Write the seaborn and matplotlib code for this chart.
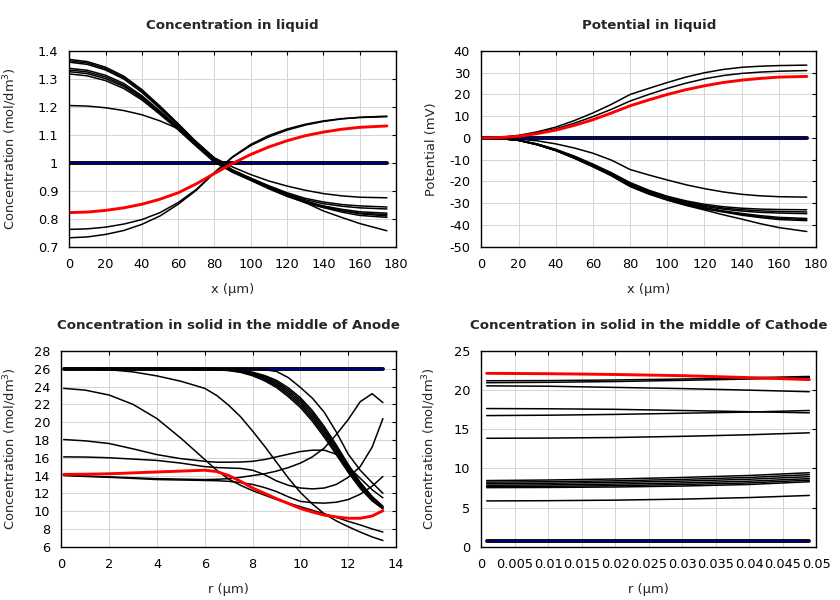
import matplotlib
matplotlib.use('Agg')
import matplotlib.pyplot as plt
from matplotlib.ticker import MultipleLocator, FormatStrFormatter
import seaborn as sns

sns.set_theme(style='white')
plt.rcParams['font.family'] = ['DejaVu Sans']
plt.rcParams['mathtext.fontset'] = 'dejavusans'

# ---- Concentration in liquid (x in um) ----
x_liq = [0, 10, 20, 30, 40, 50, 60, 70, 80, 90, 100, 110, 120, 130, 140, 150, 160, 175]

conc_liq_black = [
    [1.370, 1.362, 1.342, 1.310, 1.262, 1.203, 1.140, 1.075, 1.015, 0.975, 0.945, 0.915, 0.888, 0.858, 0.828, 0.805, 0.783, 0.757],
    [1.365, 1.357, 1.337, 1.305, 1.257, 1.198, 1.136, 1.072, 1.012, 0.972, 0.942, 0.912, 0.886, 0.863, 0.845, 0.830, 0.818, 0.810],
    [1.360, 1.352, 1.332, 1.300, 1.252, 1.194, 1.133, 1.070, 1.010, 0.970, 0.940, 0.909, 0.882, 0.858, 0.840, 0.824, 0.812, 0.805],
    [1.338, 1.331, 1.313, 1.284, 1.240, 1.185, 1.127, 1.065, 1.008, 0.972, 0.945, 0.918, 0.893, 0.873, 0.860, 0.851, 0.846, 0.842],
    [1.332, 1.325, 1.307, 1.278, 1.235, 1.181, 1.124, 1.063, 1.006, 0.970, 0.942, 0.914, 0.889, 0.868, 0.854, 0.845, 0.839, 0.835],
    [1.326, 1.319, 1.301, 1.273, 1.230, 1.177, 1.121, 1.061, 1.004, 0.968, 0.939, 0.910, 0.884, 0.862, 0.846, 0.834, 0.825, 0.820],
    [1.318, 1.311, 1.294, 1.266, 1.225, 1.173, 1.118, 1.059, 1.002, 0.966, 0.937, 0.907, 0.880, 0.858, 0.841, 0.829, 0.820, 0.815],
    [1.205, 1.203, 1.197, 1.187, 1.172, 1.150, 1.122, 1.075, 1.018, 0.985, 0.958, 0.935, 0.917, 0.902, 0.890, 0.882, 0.877, 0.875],
    [0.762, 0.764, 0.770, 0.781, 0.797, 0.822, 0.858, 0.905, 0.965, 1.020, 1.062, 1.093, 1.117, 1.135, 1.148, 1.157, 1.163, 1.167],
    [0.732, 0.735, 0.744, 0.758, 0.780, 0.810, 0.852, 0.902, 0.965, 1.022, 1.066, 1.098, 1.121, 1.138, 1.150, 1.158, 1.162, 1.165],
]
conc_liq_red = [0.822, 0.824, 0.830, 0.839, 0.852, 0.870, 0.893, 0.925, 0.962, 0.998, 1.030, 1.057, 1.079, 1.097, 1.110, 1.120, 1.127, 1.132]
conc_liq_flat = [1.0] * len(x_liq)

# ---- Potential in liquid (mV) ----
pot_liq_black = [
    [0, 0.3, 1.2, 2.8, 5.0, 8.0, 11.5, 15.5, 20.0, 22.8, 25.5, 28.0, 30.0, 31.5, 32.5, 33.0, 33.3, 33.5],
    [0, 0.25, 1.0, 2.3, 4.2, 6.8, 9.8, 13.2, 17.0, 20.0, 22.8, 25.2, 27.2, 28.7, 29.7, 30.3, 30.7, 31.0],
    [0, -0.1, -0.5, -1.3, -2.7, -4.6, -7.0, -10.2, -14.5, -17.0, -19.3, -21.5, -23.3, -24.8, -25.9, -26.6, -27.0, -27.2],
    [0, -0.2, -1.0, -2.7, -5.2, -8.3, -12.0, -16.0, -20.5, -24.0, -26.8, -28.9, -30.5, -31.6, -32.3, -32.7, -32.9, -33.0],
    [0, -0.2, -1.0, -2.8, -5.4, -8.6, -12.3, -16.3, -20.9, -24.3, -27.1, -29.3, -31.0, -32.2, -33.0, -33.5, -33.8, -34.0],
    [0, -0.2, -1.0, -2.9, -5.5, -8.8, -12.5, -16.6, -21.2, -24.6, -27.4, -29.7, -31.5, -32.7, -33.6, -34.2, -34.5, -34.8],
    [0, -0.25, -1.1, -3.0, -5.6, -9.0, -12.8, -16.9, -21.6, -25.0, -27.8, -30.1, -32.0, -33.5, -34.7, -35.7, -36.5, -37.0],
    [0, -0.25, -1.1, -3.0, -5.7, -9.2, -13.0, -17.1, -21.9, -25.3, -28.1, -30.4, -32.3, -33.8, -35.1, -36.2, -37.0, -37.5],
    [0, -0.25, -1.1, -3.1, -5.8, -9.3, -13.2, -17.3, -22.2, -25.6, -28.4, -30.7, -32.6, -34.0, -35.5, -36.6, -37.5, -38.0],
    [0, -0.25, -1.1, -3.1, -5.8, -9.3, -13.2, -17.4, -22.3, -25.8, -28.6, -31.0, -33.1, -35.3, -37.3, -39.4, -41.2, -43.0],
]
pot_liq_red = [0, 0.2, 0.8, 2.0, 3.6, 5.8, 8.4, 11.5, 14.8, 17.5, 20.0, 22.2, 24.0, 25.5, 26.6, 27.4, 28.0, 28.3]
pot_liq_flat = [0.0] * len(x_liq)

# ---- Concentration in solid, middle of anode ----
r_an = [0.1, 1, 2, 3, 4, 5, 6, 6.5, 7, 7.5, 8, 8.5, 9, 9.5, 10, 10.5, 11, 11.5, 12, 12.5, 13, 13.45]

conc_an_black = [
    # dense bundle
    [26.06, 26.06, 26.06, 26.06, 26.06, 26.06, 26.04, 26.01, 25.96, 25.84, 25.62, 25.25, 24.70, 23.85, 22.75, 21.30, 19.50, 17.45, 15.25, 13.25, 11.65, 10.55],
    [26.04, 26.04, 26.04, 26.04, 26.04, 26.04, 26.02, 25.99, 25.93, 25.79, 25.54, 25.13, 24.54, 23.65, 22.53, 21.06, 19.26, 17.23, 15.07, 13.11, 11.55, 10.49],
    [26.01, 26.01, 26.01, 26.01, 26.01, 26.01, 25.99, 25.96, 25.90, 25.74, 25.46, 25.01, 24.38, 23.45, 22.31, 20.82, 19.02, 17.01, 14.89, 12.97, 11.45, 10.43],
    [25.99, 25.99, 25.99, 25.99, 25.99, 25.99, 25.97, 25.94, 25.86, 25.70, 25.38, 24.89, 24.22, 23.25, 22.09, 20.58, 18.78, 16.79, 14.71, 12.83, 11.35, 10.37],
    [25.96, 25.96, 25.96, 25.96, 25.96, 25.96, 25.94, 25.91, 25.83, 25.65, 25.30, 24.77, 24.06, 23.05, 21.87, 20.34, 18.54, 16.57, 14.53, 12.69, 11.25, 10.31],
    [25.94, 25.94, 25.94, 25.94, 25.94, 25.94, 25.92, 25.89, 25.80, 25.60, 25.22, 24.65, 23.90, 22.85, 21.65, 20.10, 18.30, 16.35, 14.35, 12.55, 11.15, 10.25],
    # single curves
    [26.0, 26.0, 26.0, 26.0, 26.0, 26.0, 26.0, 26.0, 26.0, 26.0, 25.98, 25.9, 25.7, 25.0, 23.9, 22.7, 21.1, 18.9, 16.4, 14.6, 13.2, 12.0],
    [26.0, 25.98, 25.9, 25.65, 25.2, 24.6, 23.8, 23.0, 21.9, 20.6, 19.0, 17.3, 15.5, 13.7, 12.1, 10.8, 9.7, 8.9, 8.25, 7.65, 7.1, 6.7],
    [23.8, 23.6, 23.05, 22.0, 20.4, 18.2, 15.8, 14.6, 13.6, 12.9, 12.3, 11.8, 11.3, 10.9, 10.5, 10.1, 9.7, 9.3, 8.85, 8.45, 8.0, 7.65],
    [18.05, 17.9, 17.6, 17.0, 16.35, 15.9, 15.6, 15.5, 15.5, 15.52, 15.6, 15.8, 16.1, 16.4, 16.7, 16.85, 16.85, 16.4, 15.0, 13.7, 12.4, 11.5],
    [16.1, 16.08, 16.0, 15.85, 15.7, 15.4, 15.0, 14.9, 14.85, 14.8, 14.6, 14.1, 13.4, 12.9, 12.6, 12.5, 12.6, 13.0, 13.8, 15.0, 17.2, 20.4],
    [14.05, 13.95, 13.85, 13.75, 13.65, 13.6, 13.55, 13.58, 13.65, 13.8, 14.0, 14.2, 14.5, 14.9, 15.4, 16.1, 17.1, 18.6, 20.3, 22.3, 23.2, 22.2],
    [14.0, 13.9, 13.8, 13.68, 13.55, 13.5, 13.45, 13.42, 13.35, 13.2, 13.0, 12.65, 12.2, 11.6, 11.1, 10.95, 10.9, 11.0, 11.3, 11.9, 12.8, 13.9],
]
conc_an_red = [14.13, 14.15, 14.2, 14.3, 14.4, 14.5, 14.6, 14.45, 14.0, 13.35, 12.6, 12.0, 11.4, 10.85, 10.3, 9.9, 9.55, 9.35, 9.2, 9.2, 9.45, 10.05]
conc_an_flat = [26.0] * len(r_an)

# ---- Concentration in solid, middle of cathode ----
r_cat = [0.0008, 0.01, 0.02, 0.03, 0.04, 0.049]

conc_cat_black = [
    [21.2, 21.22, 21.3, 21.42, 21.58, 21.75],
    [20.95, 21.0, 21.1, 21.25, 21.42, 21.6],
    [20.55, 20.5, 20.35, 20.2, 20.0, 19.8],
    [17.65, 17.62, 17.55, 17.4, 17.25, 17.1],
    [16.75, 16.8, 16.9, 17.05, 17.2, 17.4],
    [13.85, 13.88, 13.95, 14.1, 14.3, 14.55],
    [8.45, 8.52, 8.65, 8.85, 9.1, 9.45],
    [8.25, 8.3, 8.42, 8.6, 8.85, 9.2],
    [8.05, 8.1, 8.22, 8.38, 8.62, 8.95],
    [7.85, 7.9, 8.0, 8.15, 8.37, 8.7],
    [7.7, 7.72, 7.8, 7.95, 8.15, 8.5],
    [7.55, 7.57, 7.63, 7.75, 7.95, 8.3],
    [5.85, 5.88, 5.95, 6.08, 6.28, 6.55],
]
conc_cat_red = [22.15, 22.1, 22.0, 21.85, 21.6, 21.35]
conc_cat_flat = [0.7] * len(r_cat)


def draw_panel(ax, x, black, red, flat):
    # initial state: thick black with navy core
    sns.lineplot(x=x, y=flat, ax=ax, color='black', linewidth=2.8, estimator=None, sort=False)
    sns.lineplot(x=x, y=flat, ax=ax, color='#000080', linewidth=1.4, estimator=None, sort=False)
    for y in black:
        sns.lineplot(x=x, y=y, ax=ax, color='black', linewidth=1.1, estimator=None, sort=False)
    sns.lineplot(x=x, y=red, ax=ax, color='red', linewidth=2.1, estimator=None, sort=False)


def style_axes(ax, title, xlabel, ylabel, xlim, xstep, ylim, ystep, ylab_x):
    ax.set_xlim(*xlim)
    ax.set_ylim(*ylim)
    ax.xaxis.set_major_locator(MultipleLocator(xstep))
    ax.yaxis.set_major_locator(MultipleLocator(ystep))
    ax.xaxis.set_major_formatter(FormatStrFormatter('%g'))
    ax.yaxis.set_major_formatter(FormatStrFormatter('%g'))
    ax.grid(True, color='#d4d4d4', linewidth=0.7)
    ax.set_axisbelow(True)
    for s in ax.spines.values():
        s.set_color('black')
        s.set_linewidth(1.0)
    ax.tick_params(direction='in', top=True, right=True, length=3, width=0.8,
                   labelsize=9.3, pad=8, colors='black')
    ax.set_title(title, fontsize=9.6, fontweight='bold', pad=15.5)
    ax.set_xlabel(xlabel, fontsize=9.4)
    ax.set_ylabel(ylabel, fontsize=9.4)
    ax.xaxis.set_label_coords(0.5, -0.187)
    ax.yaxis.set_label_coords(ylab_x, 0.5)


fig = plt.figure(figsize=(8.4, 6), dpi=100)
ax1 = fig.add_axes([0.0825, 0.5888, 0.3889, 0.3262])
ax2 = fig.add_axes([0.573, 0.5888, 0.3985, 0.3262])
ax3 = fig.add_axes([0.073, 0.0888, 0.3985, 0.3262])
ax4 = fig.add_axes([0.573, 0.0888, 0.3985, 0.3262])

draw_panel(ax1, x_liq, conc_liq_black, conc_liq_red, conc_liq_flat)
style_axes(ax1, 'Concentration in liquid', 'x (µm)', 'Concentration (mol/dm$^3$)',
           (0, 180), 20, (0.7, 1.4), 0.1, -0.154)

draw_panel(ax2, x_liq, pot_liq_black, pot_liq_red, pot_liq_flat)
style_axes(ax2, 'Potential in liquid', 'x (µm)', 'Potential (mV)',
           (0, 180), 20, (-50, 40), 10, -0.128)

draw_panel(ax3, r_an, conc_an_black, conc_an_red, conc_an_flat)
style_axes(ax3, 'Concentration in solid in the middle of Anode', 'r (µm)', 'Concentration (mol/dm$^3$)',
           (0, 14), 2, (6, 28), 2, -0.126)

draw_panel(ax4, r_cat, conc_cat_black, conc_cat_red, conc_cat_flat)
style_axes(ax4, 'Concentration in solid in the middle of Cathode', 'r (µm)', 'Concentration (mol/dm$^3$)',
           (0, 0.05), 0.005, (0, 25), 5, -0.128)

plt.savefig('out.png', dpi=100)
